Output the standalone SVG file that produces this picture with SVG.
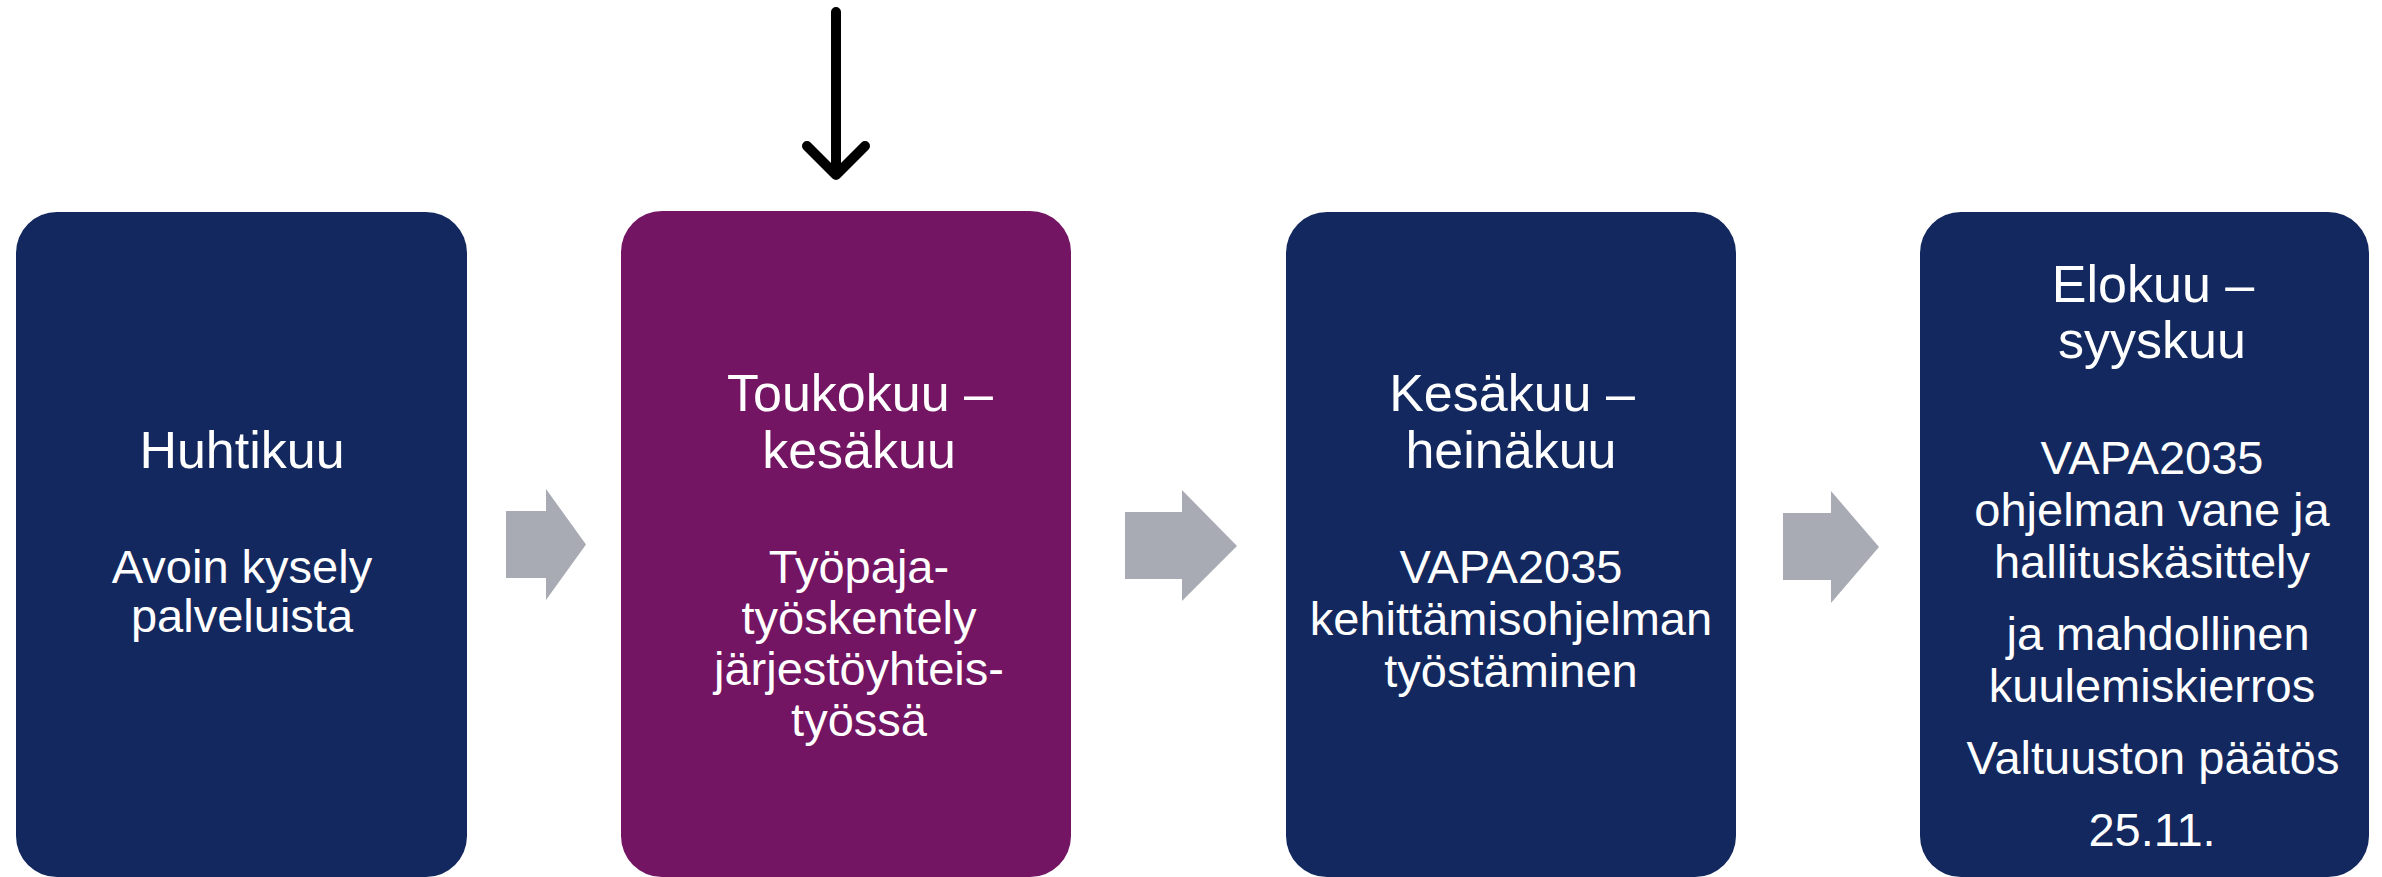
<svg xmlns="http://www.w3.org/2000/svg" width="2382" height="877" viewBox="0 0 2382 877">
<style>
.navy{fill:#13285E}
.purple{fill:#731563}
.flow{fill:#A9ABB4}
text{font-family:"Liberation Sans",Arial,sans-serif;fill:#FFFFFF;text-anchor:middle}
.t{font-size:52px}
.b{font-size:47px}
</style>
<rect width="2382" height="877" fill="#FFFFFF"/>
<g id="connectors">
<polygon class="flow" points="506,511 546,511 546,489 586,544.5 546,600 546,578 506,578"/>
<polygon class="flow" points="1125,512 1182,512 1182,490 1237,546 1182,601 1182,579 1125,579"/>
<polygon class="flow" points="1783,513 1831,513 1831,491 1879,547 1831,603 1831,580 1783,580"/>
<path d="M836,12 V174 M807,146 L836,175 L865,146" fill="none" stroke="#000000" stroke-width="10" stroke-linecap="round" stroke-linejoin="round"/>
</g>
<g id="node-huhtikuu">
<rect class="navy" x="16" y="212" width="451" height="665" rx="41" ry="41"/>
<text class="t" x="242" y="468">Huhtikuu</text>
<text class="b" x="242" y="583">Avoin kysely</text>
<text class="b" x="242" y="632">palveluista</text>
</g>
<g id="node-toukokuu">
<rect class="purple" x="621" y="211" width="450" height="666" rx="41" ry="41"/>
<text class="t" x="860" y="411">Toukokuu –</text>
<text class="t" x="859" y="468">kesäkuu</text>
<text class="b" x="859" y="583">Työpaja-</text>
<text class="b" x="859" y="634">työskentely</text>
<text class="b" x="859" y="685">järjestöyhteis-</text>
<text class="b" x="859" y="736">työssä</text>
</g>
<g id="node-kesakuu">
<rect class="navy" x="1286" y="212" width="450" height="665" rx="41" ry="41"/>
<text class="t" x="1512" y="411">Kesäkuu –</text>
<text class="t" x="1511" y="468">heinäkuu</text>
<text class="b" x="1511" y="583">VAPA2035</text>
<text class="b" x="1511" y="635">kehittämisohjelman</text>
<text class="b" x="1511" y="687">työstäminen</text>
</g>
<g id="node-elokuu">
<rect class="navy" x="1920" y="212" width="449" height="665" rx="41" ry="41"/>
<text class="t" x="2153" y="302">Elokuu –</text>
<text class="t" x="2152" y="358">syyskuu</text>
<text class="b" x="2152" y="474">VAPA2035</text>
<text class="b" x="2152" y="526">ohjelman vane ja</text>
<text class="b" x="2152" y="578">hallituskäsittely</text>
<text class="b" x="2158" y="650">ja mahdollinen</text>
<text class="b" x="2152" y="702">kuulemiskierros</text>
<text class="b" x="2153" y="774">Valtuuston päätös</text>
<text class="b" x="2152" y="846">25.11.</text>
</g>
</svg>
